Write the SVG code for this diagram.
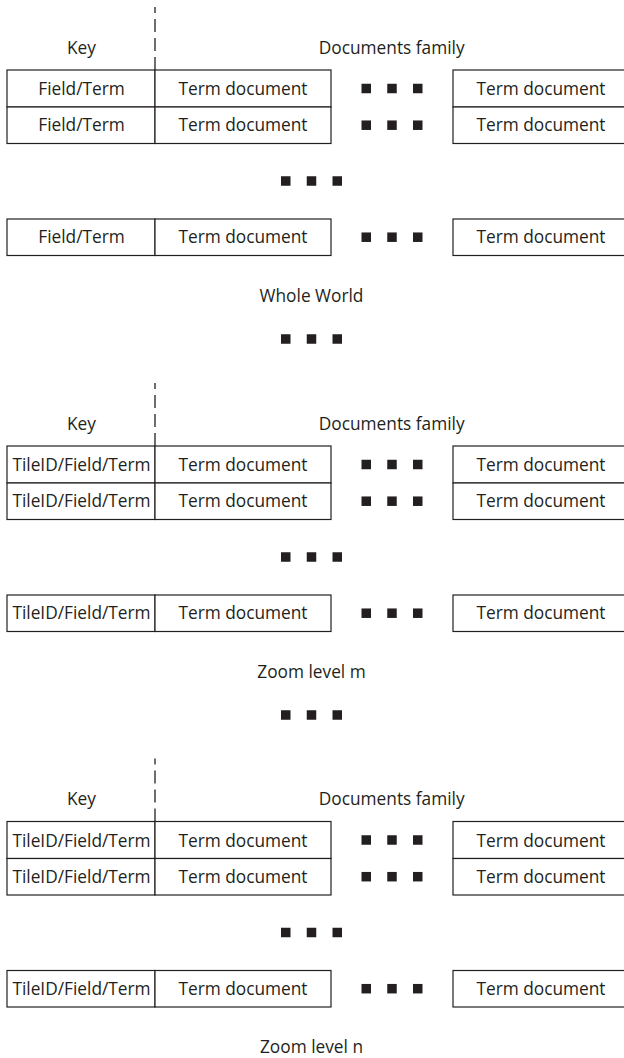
<svg xmlns="http://www.w3.org/2000/svg" xmlns:xlink="http://www.w3.org/1999/xlink" width="624" height="1058" viewBox="0 0 624 1058">
<style>
text{font-family:"Open Sans","Liberation Sans",sans-serif;font-size:17.3px;fill:#231f20;text-anchor:middle}
.cell{fill:#fff;stroke:#231f20;stroke-width:1.2}
.dash{stroke:#231f20;stroke-width:1.3;stroke-dasharray:13 6;fill:none}
.sq{fill:#231f20}
</style>
<defs>
<g id="dots"><rect class="sq" x="-30.5" y="-4.75" width="9.5" height="9.5"/><rect class="sq" x="-4.75" y="-4.75" width="9.5" height="9.5"/><rect class="sq" x="21" y="-4.75" width="9.5" height="9.5"/></g>
</defs>
<rect width="624" height="1058" fill="#fff"/>
<g id="connectors">
<line class="dash" x1="155" y1="70" x2="155" y2="7"/>
<line class="dash" x1="155" y1="446" x2="155" y2="383"/>
<line class="dash" x1="155" y1="821.5" x2="155" y2="758.5"/>
</g>
<g id="section-whole-world">
<g id="s1-header"><text x="81.5" y="53.5">Key</text><text x="391.7" y="53.5">Documents family</text></g>
<g id="s1-row1"><rect class="cell" x="7" y="70" width="148" height="37"/><rect class="cell" x="155" y="70" width="176" height="37"/><rect class="cell" x="453" y="70" width="176" height="37"/><text x="81.5" y="95">Field/Term</text><text x="243" y="95">Term document</text><use xlink:href="#dots" x="392" y="88.5"/><text x="541" y="95">Term document</text></g>
<g id="s1-row2"><rect class="cell" x="7" y="107" width="148" height="36.5"/><rect class="cell" x="155" y="107" width="176" height="36.5"/><rect class="cell" x="453" y="107" width="176" height="36.5"/><text x="81.5" y="131.4">Field/Term</text><text x="243" y="131.4">Term document</text><use xlink:href="#dots" x="392" y="125.2"/><text x="541" y="131.4">Term document</text></g>
<use xlink:href="#dots" x="311.5" y="181"/>
<g id="s1-row3"><rect class="cell" x="7" y="219" width="148" height="36.5"/><rect class="cell" x="155" y="219" width="176" height="36.5"/><rect class="cell" x="453" y="219" width="176" height="36.5"/><text x="81.5" y="243.4">Field/Term</text><text x="243" y="243.4">Term document</text><use xlink:href="#dots" x="392" y="237.2"/><text x="541" y="243.4">Term document</text></g>
<text id="s1-label" x="311.5" y="301.5">Whole World</text>
<use xlink:href="#dots" x="311.5" y="339"/>
</g>
<g id="section-zoom-m" transform="translate(0,376)">
<g id="s2-header"><text x="81.5" y="53.5">Key</text><text x="391.7" y="53.5">Documents family</text></g>
<g id="s2-row1"><rect class="cell" x="7" y="70" width="148" height="37"/><rect class="cell" x="155" y="70" width="176" height="37"/><rect class="cell" x="453" y="70" width="176" height="37"/><text x="81.5" y="95">TileID/Field/Term</text><text x="243" y="95">Term document</text><use xlink:href="#dots" x="392" y="88.5"/><text x="541" y="95">Term document</text></g>
<g id="s2-row2"><rect class="cell" x="7" y="107" width="148" height="36.5"/><rect class="cell" x="155" y="107" width="176" height="36.5"/><rect class="cell" x="453" y="107" width="176" height="36.5"/><text x="81.5" y="131.4">TileID/Field/Term</text><text x="243" y="131.4">Term document</text><use xlink:href="#dots" x="392" y="125.2"/><text x="541" y="131.4">Term document</text></g>
<use xlink:href="#dots" x="311.5" y="181"/>
<g id="s2-row3"><rect class="cell" x="7" y="219" width="148" height="36.5"/><rect class="cell" x="155" y="219" width="176" height="36.5"/><rect class="cell" x="453" y="219" width="176" height="36.5"/><text x="81.5" y="243.4">TileID/Field/Term</text><text x="243" y="243.4">Term document</text><use xlink:href="#dots" x="392" y="237.2"/><text x="541" y="243.4">Term document</text></g>
<text id="s2-label" x="311.5" y="301.5">Zoom level m</text>
<use xlink:href="#dots" x="311.5" y="339"/>
</g>
<g id="section-zoom-n" transform="translate(0,751.5)">
<g id="s3-header"><text x="81.5" y="53.5">Key</text><text x="391.7" y="53.5">Documents family</text></g>
<g id="s3-row1"><rect class="cell" x="7" y="70" width="148" height="37"/><rect class="cell" x="155" y="70" width="176" height="37"/><rect class="cell" x="453" y="70" width="176" height="37"/><text x="81.5" y="95">TileID/Field/Term</text><text x="243" y="95">Term document</text><use xlink:href="#dots" x="392" y="88.5"/><text x="541" y="95">Term document</text></g>
<g id="s3-row2"><rect class="cell" x="7" y="107" width="148" height="36.5"/><rect class="cell" x="155" y="107" width="176" height="36.5"/><rect class="cell" x="453" y="107" width="176" height="36.5"/><text x="81.5" y="131.4">TileID/Field/Term</text><text x="243" y="131.4">Term document</text><use xlink:href="#dots" x="392" y="125.2"/><text x="541" y="131.4">Term document</text></g>
<use xlink:href="#dots" x="311.5" y="181"/>
<g id="s3-row3"><rect class="cell" x="7" y="219" width="148" height="36.5"/><rect class="cell" x="155" y="219" width="176" height="36.5"/><rect class="cell" x="453" y="219" width="176" height="36.5"/><text x="81.5" y="243.4">TileID/Field/Term</text><text x="243" y="243.4">Term document</text><use xlink:href="#dots" x="392" y="237.2"/><text x="541" y="243.4">Term document</text></g>
<text id="s3-label" x="311.5" y="301.5">Zoom level n</text>
</g>
</svg>
